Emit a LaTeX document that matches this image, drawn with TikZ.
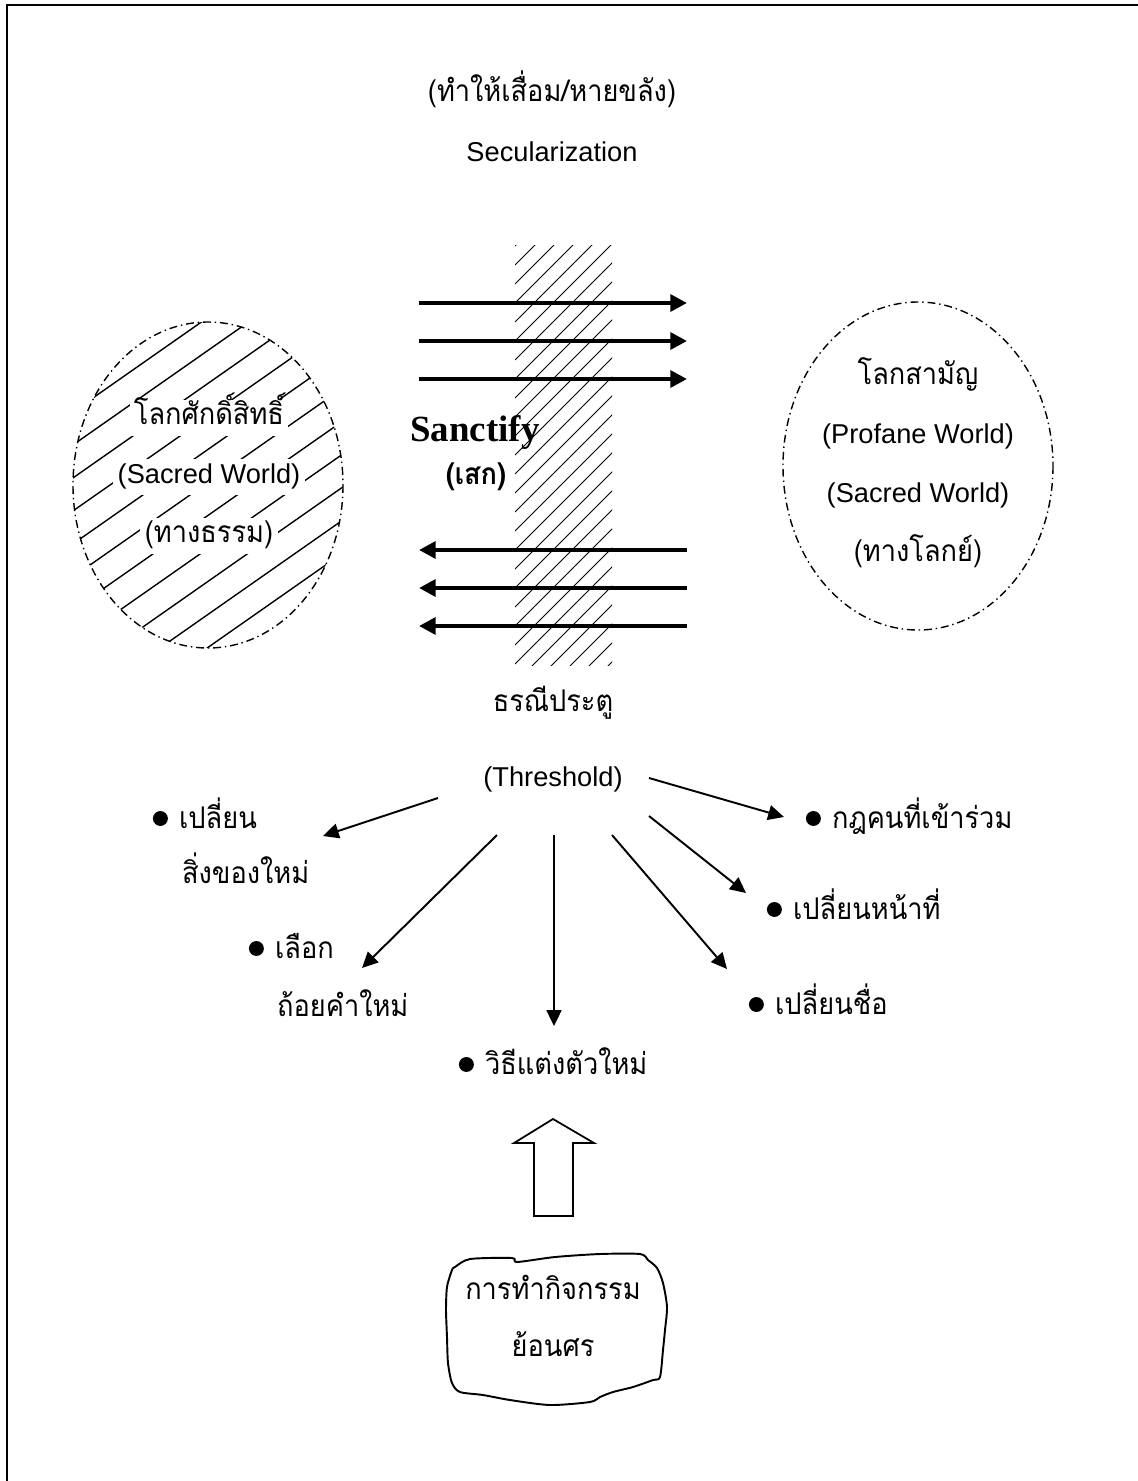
\documentclass[tikz,border=0pt]{standalone}
\usepackage{fontspec}
\setmainfont{Liberation Sans}
\newfontfamily\thaifont[Script=Thai, FakeStretch=0.91]{Loma}
\newfontfamily\timesfont{Liberation Serif}
\usetikzlibrary{arrows.meta, positioning}

\tikzset{
  base/.style = {inner sep=1pt, text height=11pt, text depth=4pt},
  txt/.style = {base, font=\thaifont\fontsize{17}{20}\selectfont},
  lat/.style = {base, font=\fontsize{15.5}{18}\selectfont},
  world/.style = {line width=0.8pt, dash pattern=on 4.5pt off 2.2pt on 0.8pt off 2.2pt},
  hatch/.style = {line width=0.55pt},
  bigarrow/.style = {line width=2.6pt, -{Triangle[length=9.5pt, width=9.5pt]}},
  thinarrow/.style = {line width=1.1pt, -{Triangle[length=9pt, width=8.5pt]}},
  dot/.style = {circle, fill, inner sep=0pt, minimum size=8.5pt},
  blank/.style = {fill=white, inner sep=2.5pt},
}

\begin{document}
\begin{tikzpicture}[x=0.02cm, y=-0.02cm, node distance=1.18cm, on grid]
\useasboundingbox (0,0) rectangle (1137,1481);

% frame
\draw [line width=1.2pt] (7,1490) -- (7,5) -- (1145,5);

% title
\node (desec) [txt] at (552,95) {(ทำให้เสื่อม/หายขลัง)};
\node (secu) [lat, below = 1.2cm of desec] {Secularization};

% threshold band
\begin{scope}
  \clip (515,245) rectangle (612,665);
  \foreach \k in {-1,...,27}
    \draw [hatch] (515,265+19*\k) -- ++(130,-130);
\end{scope}

% arrows across the threshold
\foreach \y [count=\i] in {303,341,379} {
  \coordinate (rs\i) at (419,\y);
  \coordinate (re\i) at (687,\y);
  \draw [bigarrow] (rs\i) -- (re\i);
}
\foreach \y [count=\i] in {550,588,626} {
  \coordinate (ls\i) at (687,\y);
  \coordinate (le\i) at (419,\y);
  \draw [bigarrow] (ls\i) -- (le\i);
}

\node (sanct) [font=\timesfont\bfseries\fontsize{21}{24}\selectfont] at (475,432) {Sanctify};
\node (sek) [txt, font=\thaifont\bfseries\fontsize{17}{20}\selectfont] at (476,478) {(เสก)};

% sacred world
\begin{scope}
  \clip (208,485) ellipse [x radius=135, y radius=163];
  \foreach \k in {0,...,16}
    \draw [hatch, line width=0.8pt] (60,322+33*\k) -- ++(400,-280);
\end{scope}
\draw [world] (208,485) ellipse [x radius=135, y radius=163];
\node (sac1) [txt, blank] at (209,418) {โลกศักดิ์สิทธิ์};
\node (sac2) [lat, blank, below = of sac1] {(Sacred World)};
\node (sac3) [txt, blank, below = of sac2] {(ทางธรรม)};

% profane world
\draw [world] (918,466) ellipse [x radius=135, y radius=164];
\node (pro1) [txt] at (918,378) {โลกสามัญ};
\node (pro2) [lat, below = of pro1] {(Profane World)};
\node (pro3) [lat, below = of pro2] {(Sacred World)};
\node (pro4) [txt, below = of pro3] {(ทางโลกย์)};

% threshold
\node (thr1) [txt] at (553,705) {ธรณีประตู};
\node (thr) [lat, below = 1.5cm of thr1] {(Threshold)};

% items
\node (it1)  [txt, anchor=west] at (177,822) {เปลี่ยน};
\node (it1b) [txt, anchor=west] at (180,877) {สิ่งของใหม่};
\node (it2)  [txt, anchor=west] at (273,952) {เลือก};
\node (it2b) [txt, anchor=west] at (275,1010) {ถ้อยคำใหม่};
\node (it3)  [txt, anchor=west] at (483,1068) {วิธีแต่งตัวใหม่};
\node (it4)  [txt, anchor=west] at (830,822) {กฎคนที่เข้าร่วม};
\node (it5)  [txt, anchor=west] at (791,913) {เปลี่ยนหน้าที่};
\node (it6)  [txt, anchor=west] at (773,1008) {เปลี่ยนชื่อ};
\foreach \n in {it1,it2,it3,it4,it5,it6}
  \node (dot-\n) [dot, left = 5pt of \n.west, yshift=2pt] {};

% arrows out of the threshold
\coordinate (ta) at (438,798);  \coordinate (ea) at (323,836);
\coordinate (tb) at (497,835);  \coordinate (eb) at (362,968);
\coordinate (tc) at (554,835);  \coordinate (ec) at (554,1026);
\coordinate (td) at (649,778);  \coordinate (ed) at (784,817);
\coordinate (te) at (649,816);  \coordinate (ee) at (746,893);
\coordinate (tf) at (612,835);  \coordinate (ef) at (727,969);
\foreach \s/\e in {ta/ea, tb/eb, tc/ec, td/ed, te/ee, tf/ef}
  \draw [thinarrow] (\s) -- (\e);

% activity
\draw [line width=1pt] (553,1119) -- (594,1143) -- (573,1143) -- (573,1216)
  -- (534,1216) -- (534,1143) -- (514,1143) -- cycle;
\draw [line width=1.1pt] plot [smooth cycle, tension=0.45] coordinates {
  (455,1267) (470,1259) (512,1258) (517,1262) (555,1257) (600,1254) (640,1254)
  (648,1260) (657,1268) (663,1283) (667,1307) (665,1330) (663,1350) (660,1377)
  (653,1380) (633,1387) (613,1392) (600,1397) (590,1402) (550,1405) (510,1400)
  (483,1395) (460,1392) (452,1383) (448,1363) (447,1337) (446,1310) (447,1287)
  (452,1270)};
\node (act1) [txt] at (553,1293) {การทำกิจกรรม};
\node (act2) [txt, below = 1.14cm of act1] {ย้อนศร};
\end{tikzpicture}
\end{document}
